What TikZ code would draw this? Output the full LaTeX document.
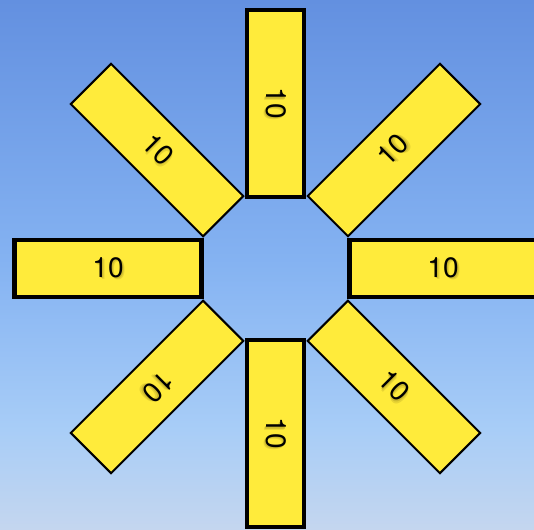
\documentclass[tikz,border=0pt]{standalone}
\usepackage{fontspec}
\setmainfont{TeX Gyre Heros}
\usetikzlibrary{calc}
\definecolor{sunyellow}{RGB}{255,235,59}
\definecolor{shadowA}{RGB}{232,212,52}
\definecolor{shadowB}{RGB}{205,186,46}
\definecolor{skyA}{RGB}{99,144,224}
\definecolor{skyB}{RGB}{133,179,242}
\definecolor{skyC}{RGB}{168,205,247}
\definecolor{skyD}{RGB}{196,214,239}
\newcommand\sunlabel[1]{\makebox[0pt][l]{\hspace{2.4pt}\raisebox{-2.4pt}{\textcolor{shadowA}{#1}}}\makebox[0pt][l]{\hspace{1.3pt}\raisebox{-1.3pt}{\textcolor{shadowB}{#1}}}#1}
\begin{document}
\begin{tikzpicture}[x=1pt,y=1pt,
  ray/.style={draw=black, fill=sunyellow, minimum width=187pt, minimum height=57pt,
    inner sep=0pt, outer sep=0pt, font=\fontsize{28}{28}\selectfont, text=black},
  axisray/.style={ray, line width=4.5pt},
  diagray/.style={ray, line width=2pt}]
\useasboundingbox (0,0) rectangle (534,529);
\shade[top color=skyA, bottom color=skyB] (0,264) rectangle (534,529);
\shade[top color=skyB, bottom color=skyC] (0,99) rectangle (534,264.5);
\shade[top color=skyC, bottom color=skyD] (0,0) rectangle (534,99.5);
\coordinate (c) at (275.5,260.5);
% diagonal rays
\node[diagray, rotate=-45]  (tl) at ($(c)+(135:167.5)$) {\sunlabel{10}};
\node[diagray, rotate=45]   (tr) at ($(c)+(45:167.5)$)  {\sunlabel{10}};
\node[diagray, rotate=-45]  (br) at ($(c)+(-45:167.5)$) {\sunlabel{10}};
\node[diagray, rotate=-135] (bl) at ($(c)+(225:167.5)$) {\sunlabel{10}};
% axis rays
\node[axisray, rotate=-90] (top)    at ($(c)+(0,165)$)    {\sunlabel{10}};
\node[axisray, rotate=-90] (bottom) at ($(c)+(0,-165)$)   {\sunlabel{10}};
\node[axisray]             (right)  at ($(c)+(167.5,0)$)  {\sunlabel{10}};
\node[axisray]             (left)   at ($(c)+(-167.5,0)$) {\sunlabel{10}};
\end{tikzpicture}
\end{document}
